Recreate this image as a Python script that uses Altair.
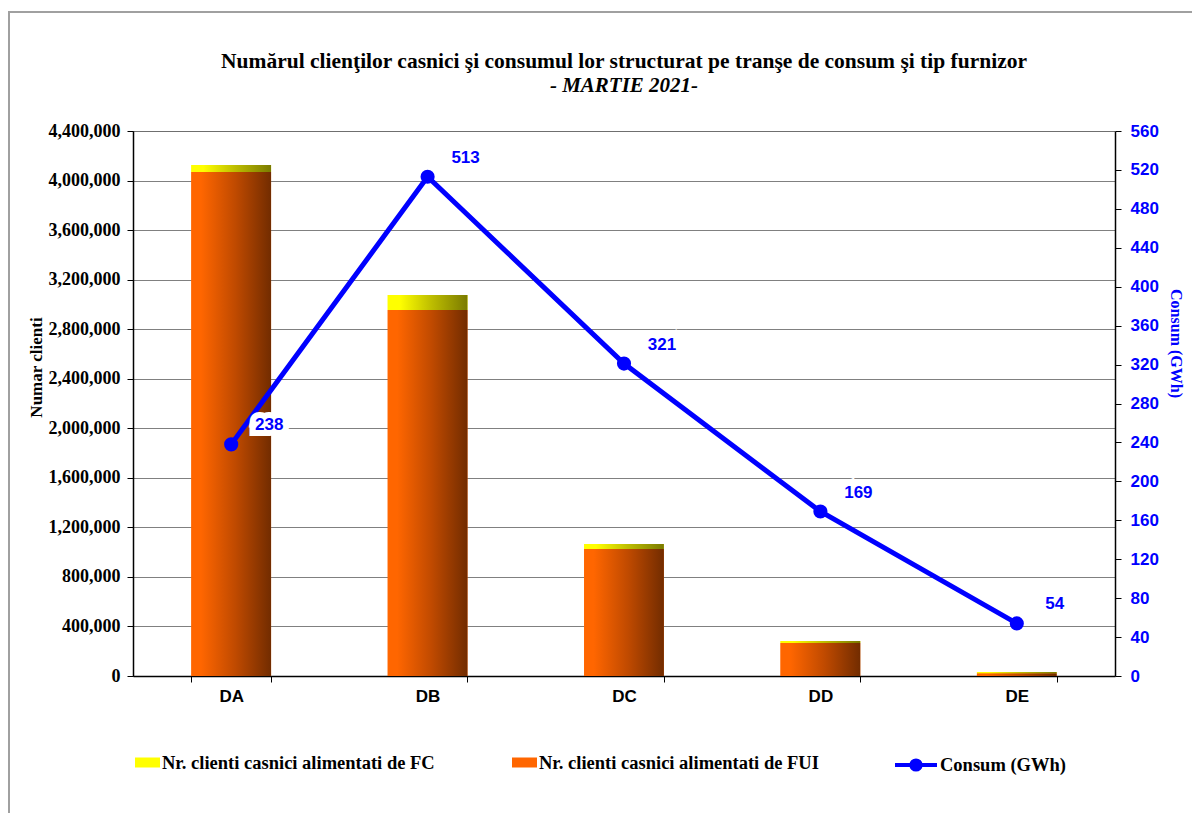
import altair as alt
import pandas as pd

# ---------------- data ----------------
categories = ["DA", "DB", "DC", "DD", "DE"]
clienti_fui = [4069000, 2955000, 1025000, 266000, 22000]
clienti_fc = [57000, 121000, 41000, 17000, 10000]
consum_gwh = [238, 513, 321, 169, 54]
left_ticks = [0, 400000, 800000, 1200000, 1600000, 2000000, 2400000,
              2800000, 3200000, 3600000, 4000000, 4400000]
right_ticks = [0, 40, 80, 120, 160, 200, 240, 280, 320, 360, 400, 440, 480, 520, 560]

FC_LABEL = "Nr. clienti casnici alimentati de FC"
FUI_LABEL = "Nr. clienti casnici alimentati de FUI"
CONS_LABEL = "Consum (GWh)"

totals = [a + b for a, b in zip(clienti_fui, clienti_fc)]
bars_df = pd.DataFrame({
    "cat": categories * 2,
    "series": [FUI_LABEL] * len(categories) + [FC_LABEL] * len(categories),
    "y0": [0] * len(categories) + clienti_fui,
    "y1": clienti_fui + totals,
})
line_df = pd.DataFrame({
    "cat": categories,
    "consum": consum_gwh,
    "serie": [CONS_LABEL] * len(categories),
})

SERIF = "Liberation Serif"
SANS = "Liberation Sans"
BLUE = "#0000FF"

x_enc = alt.X(
    "cat:N", sort=categories,
    scale=alt.Scale(paddingInner=0.594, paddingOuter=0.297),
    axis=alt.Axis(title=None, labelAngle=0, tickBand="extent", labelFont=SANS,
                  labelFontWeight="bold", labelFontSize=17, labelColor="black",
                  labelPadding=6, tickSize=6, tickColor="black", domainColor="black",
                  domainWidth=1.5, grid=False),
)

left_axis = alt.Axis(
    values=left_ticks, format=",d", title="Numar clienti", grid=True,
    gridColor="#000000", gridDash=[1, 1], gridWidth=1,
    labelFont=SERIF, labelFontWeight="bold", labelFontSize=18, labelColor="black",
    labelPadding=7, tickSize=6, tickColor="black", domainColor="black", domainWidth=1.5,
    titleFont=SERIF, titleFontWeight="bold", titleFontSize=17, titleColor="black",
    titleAngle=270, titleX=-97, titleY=236, titleAlign="center", titleBaseline="middle",
)
left_scale = alt.Scale(domain=[0, 4400000], nice=False)

right_axis = alt.Axis(
    orient="right", values=right_ticks, format="d", title=CONS_LABEL, grid=False,
    labelFont=SANS, labelFontWeight="bold", labelFontSize=17, labelColor=BLUE,
    labelPadding=9, tickSize=6, tickColor="black", domainColor="black", domainWidth=1.5,
    titleFont=SERIF, titleFontWeight="bold", titleFontSize=16, titleColor=BLUE,
    titleAngle=90, titleX=60, titleY=212, titleAlign="center", titleBaseline="middle",
)
right_scale = alt.Scale(domain=[0, 560], nice=False)

y_bar = alt.Y("y0:Q", scale=left_scale, axis=left_axis)
y2_bar = alt.Y2("y1:Q")

base_bars = alt.Chart(bars_df)

flat_bars = base_bars.mark_bar().encode(
    x=x_enc, y=y_bar, y2=y2_bar,
    fill=alt.Fill(
        "series:N",
        scale=alt.Scale(domain=[FC_LABEL, FUI_LABEL], range=["#FFFF00", "#FF6600"]),
        legend=alt.Legend(
            title=None, orient="none", legendX=2, legendY=619, direction="horizontal",
            symbolType="M-1,-0.4H1V0.4H-1Z", symbolSize=625, symbolStrokeWidth=0,
            labelFont=SERIF, labelFontWeight="bold", labelFontSize=18.5, labelColor="black",
            labelLimit=400, labelOffset=2, columnPadding=77,
        ),
    ),
)

grad_fui = alt.Gradient(
    gradient="linear", x1=0, x2=1, y1=0, y2=0,
    stops=[alt.GradientStop(color="#FF6600", offset=0),
           alt.GradientStop(color="#FF6600", offset=0.12),
           alt.GradientStop(color="#C04A00", offset=0.55),
           alt.GradientStop(color="#722C00", offset=1)],
)
grad_fc = alt.Gradient(
    gradient="linear", x1=0, x2=1, y1=0, y2=0,
    stops=[alt.GradientStop(color="#FFFF00", offset=0),
           alt.GradientStop(color="#FFFF00", offset=0.15),
           alt.GradientStop(color="#BDBD00", offset=0.55),
           alt.GradientStop(color="#7A7A00", offset=1)],
)

fui_bars = base_bars.mark_bar(fill=grad_fui).encode(
    x=x_enc, y=y_bar, y2=y2_bar
).transform_filter(alt.datum.series == FUI_LABEL)

fc_bars = base_bars.mark_bar(fill=grad_fc).encode(
    x=x_enc, y=y_bar, y2=y2_bar
).transform_filter(alt.datum.series == FC_LABEL)

bars = alt.layer(flat_bars, fui_bars, fc_bars)

y_line = alt.Y("consum:Q", scale=right_scale, axis=right_axis)
base_line = alt.Chart(line_df)

line = base_line.mark_line(strokeWidth=5).encode(
    x=x_enc, y=y_line,
    stroke=alt.Stroke(
        "serie:N",
        scale=alt.Scale(domain=[CONS_LABEL], range=[BLUE]),
        legend=alt.Legend(
            title=None, orient="none", legendX=760, legendY=611,
            symbolType="M-1,0H1M-0.22,0A0.22,0.22 0 1,0 0.22,0A0.22,0.22 0 1,0 -0.22,0",
            symbolSize=1764, symbolStrokeWidth=4, symbolFillColor=BLUE,
            labelFont=SERIF, labelFontWeight="bold", labelFontSize=18.5, labelColor="black",
            labelLimit=300, labelOffset=1,
        ),
    ),
)
points = base_line.mark_circle(size=200, color=BLUE, opacity=1).encode(x=x_enc, y=y_line)
halo = base_line.mark_text(
    dx=38, dy=-19, font=SANS, fontWeight="bold", fontSize=17,
    color="white", stroke="white", strokeWidth=12, strokeJoin="miter",
).encode(x=x_enc, y=y_line, text=alt.Text("consum:Q", format="d"))
labels = base_line.mark_text(
    dx=38, dy=-19, font=SANS, fontWeight="bold", fontSize=17, color=BLUE,
).encode(x=x_enc, y=y_line, text=alt.Text("consum:Q", format="d"))

line_layer = alt.layer(line, points, halo, labels)

border = alt.Chart(alt.Data(values=[{"k": 1}])).mark_rect(
    fillOpacity=0, stroke="#A0A0A0", strokeWidth=2
).encode(
    x=alt.value(-124), x2=alt.value(1150), y=alt.value(-119), y2=alt.value(800)
)

chart = alt.layer(border, bars, line_layer).resolve_scale(
    y="independent"
).properties(
    width=982, height=545,
    padding={"left": 125, "top": 123, "right": 77, "bottom": 137},
    autosize=alt.AutoSizeParams(type="none"),
    title=alt.TitleParams(
        text="Numărul clienţilor casnici şi consumul lor structurat pe tranşe de consum şi tip furnizor",
        subtitle="- MARTIE 2021-",
        font=SERIF, fontSize=21.5, fontWeight="bold", color="black",
        subtitleFont=SERIF, subtitleFontSize=21, subtitleFontStyle="italic",
        subtitleFontWeight="bold", subtitleColor="black", subtitlePadding=3,
        anchor="middle", offset=0, dy=85,
    ),
).configure_view(stroke="transparent").configure(background="white")

chart.save("out.html", embed_options={"renderer": "svg", "actions": False})
